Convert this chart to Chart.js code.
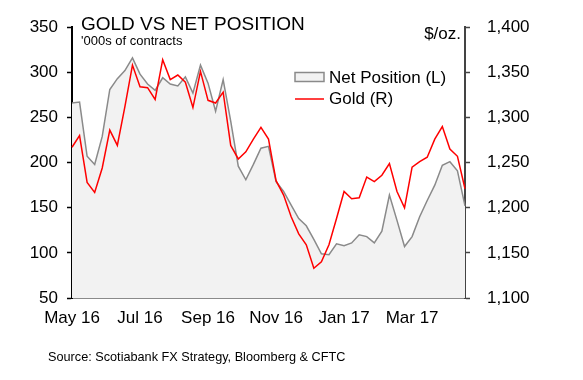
<!DOCTYPE html>
<html>
<head>
<meta charset="utf-8">
<script src="https://cdn.jsdelivr.net/npm/chart.js@4"></script>
<style>
  html, body { margin: 0; padding: 0; background: #fff; }
  #wrap { width: 583px; height: 380px; }
</style>
</head>
<body>
<div id="wrap"><canvas id="goldChart" width="583" height="380"></canvas></div>
<script>
// weekly CFTC dates (Tuesdays)
const weeks = [
    '2016-05-03', '2016-05-10', '2016-05-17', '2016-05-24', '2016-05-31',
    '2016-06-07', '2016-06-14', '2016-06-21', '2016-06-28',
    '2016-07-05', '2016-07-12', '2016-07-19', '2016-07-26',
    '2016-08-02', '2016-08-09', '2016-08-16', '2016-08-23', '2016-08-30',
    '2016-09-06', '2016-09-13', '2016-09-20', '2016-09-27',
    '2016-10-04', '2016-10-11', '2016-10-18', '2016-10-25',
    '2016-11-01', '2016-11-08', '2016-11-15', '2016-11-22', '2016-11-29',
    '2016-12-06', '2016-12-13', '2016-12-20', '2016-12-27',
    '2017-01-03', '2017-01-10', '2017-01-17', '2017-01-24', '2017-01-31',
    '2017-02-07', '2017-02-14', '2017-02-21', '2017-02-28',
    '2017-03-07', '2017-03-14', '2017-03-21', '2017-03-28',
    '2017-04-04', '2017-04-11', '2017-04-18', '2017-04-25', '2017-05-02'
];

// net position, '000s of contracts (left axis)
const netPosition = [
    266, 267, 207, 198, 229, 281, 293, 302, 316, 298,
    287, 280, 294, 287, 285, 295, 277, 308, 288, 257,
    292, 246, 196, 181, 198, 216, 218, 179, 168, 153,
    138, 130, 115, 99, 98, 110, 108, 111, 120, 118,
    111, 124, 164, 136, 107, 118, 140, 158, 175, 197,
    201, 191, 152
];

// gold, $/oz. (right axis)
const goldPrice = [
    1267, 1280, 1228, 1217, 1244, 1286, 1269, 1312, 1358, 1334,
    1333, 1320, 1364, 1342, 1347, 1339, 1311, 1351, 1319, 1316,
    1328, 1269, 1254, 1262, 1276, 1289, 1276, 1230, 1214, 1190,
    1171, 1159, 1133, 1140, 1159, 1188, 1218, 1210, 1211, 1234,
    1229, 1236, 1249, 1218, 1200, 1245, 1251, 1256, 1276, 1290,
    1265, 1257, 1221
];

const tickLabels = ['May 16', 'Jul 16', 'Sep 16', 'Nov 16', 'Jan 17', 'Mar 17'];
const tickEvery = 9;

const FONT = '"Liberation Sans", Arial, sans-serif';
const GREY = '#8a8a8a';
const FILL = '#f2f2f2';
const RED = '#ff0000';

// titles, legend and source drawn as plain text on the canvas
const annotations = {
    id: 'annotations',
    afterDraw(chart) {
        const c = chart.ctx;
        const area = chart.chartArea;
        c.save();
        c.fillStyle = '#000';
        c.textBaseline = 'alphabetic';
        c.textAlign = 'left';

        c.font = '19px ' + FONT;
        c.fillText('GOLD VS NET POSITION', area.left + 9, 30);
        c.font = '13px ' + FONT;
        c.fillText("'000s of contracts", area.left + 9, 45);

        c.font = '17px ' + FONT;
        c.textAlign = 'right';
        c.fillText('$/oz.', area.right - 4, 39);

        // legend
        c.textAlign = 'left';
        c.textBaseline = 'middle';
        c.fillStyle = FILL;
        c.fillRect(295, 72.5, 29, 9);
        c.strokeStyle = GREY;
        c.lineWidth = 1.5;
        c.strokeRect(295, 72.5, 29, 9);
        c.strokeStyle = RED;
        c.beginPath();
        c.moveTo(295, 99);
        c.lineTo(324, 99);
        c.stroke();
        c.fillStyle = '#000';
        c.fillText('Net Position (L)', 329, 78);
        c.fillText('Gold (R)', 329, 99);

        c.font = '12.7px ' + FONT;
        c.textBaseline = 'alphabetic';
        c.fillText('Source: Scotiabank FX Strategy, Bloomberg & CFTC', 48, 361);
        c.restore();
    }
};

document.addEventListener('DOMContentLoaded', function () {
    const ctx = document.getElementById('goldChart').getContext('2d');

    new Chart(ctx, {
        type: 'line',
        data: {
            labels: weeks,
            datasets: [
                {
                    label: 'Gold (R)',
                    data: goldPrice,
                    yAxisID: 'y2',
                    borderColor: RED,
                    borderWidth: 1.5,
                    pointRadius: 0,
                    tension: 0,
                    fill: false,
                    order: 0
                },
                {
                    label: 'Net Position (L)',
                    data: netPosition,
                    yAxisID: 'y',
                    borderColor: GREY,
                    backgroundColor: FILL,
                    borderWidth: 1.5,
                    pointRadius: 0,
                    tension: 0,
                    fill: 'start',
                    order: 1
                }
            ]
        },
        options: {
            responsive: false,
            animation: false,
            layout: { padding: { top: 27, left: 0, right: 0, bottom: 0 } },
            plugins: {
                legend: { display: false },
                tooltip: { enabled: false },
                title: { display: false }
            },
            scales: {
                x: {
                    offset: false,
                    grid: { display: false, drawTicks: false },
                    border: { color: GREY, width: 2 },
                    afterFit(scale) { scale.height = 82; },
                    ticks: {
                        autoSkip: false,
                        maxRotation: 0,
                        padding: 10,
                        color: '#000',
                        font: { family: FONT, size: 17 },
                        callback: function (value, i) {
                            return i % tickEvery === 0 ? tickLabels[i / tickEvery] : '';
                        }
                    }
                },
                y: {
                    position: 'left',
                    min: 50,
                    max: 350,
                    afterFit(scale) { scale.width = 72; },
                    grid: { drawOnChartArea: false, tickLength: 5, tickColor: '#000', tickWidth: 1.5 },
                    border: { color: '#000', width: 2 },
                    ticks: {
                        stepSize: 50,
                        padding: 9,
                        color: '#000',
                        font: { family: FONT, size: 17 }
                    }
                },
                y2: {
                    position: 'right',
                    min: 1100,
                    max: 1400,
                    afterFit(scale) { scale.width = 118; },
                    grid: { drawOnChartArea: false, tickLength: 5, tickColor: '#444', tickWidth: 1.5 },
                    border: { color: '#444', width: 2 },
                    ticks: {
                        stepSize: 50,
                        padding: 17,
                        color: '#000',
                        font: { family: FONT, size: 17 },
                        callback: function (value) {
                            return value.toLocaleString('en-US');
                        }
                    }
                }
            }
        },
        plugins: [annotations]
    });
});
</script>
</body>
</html>
